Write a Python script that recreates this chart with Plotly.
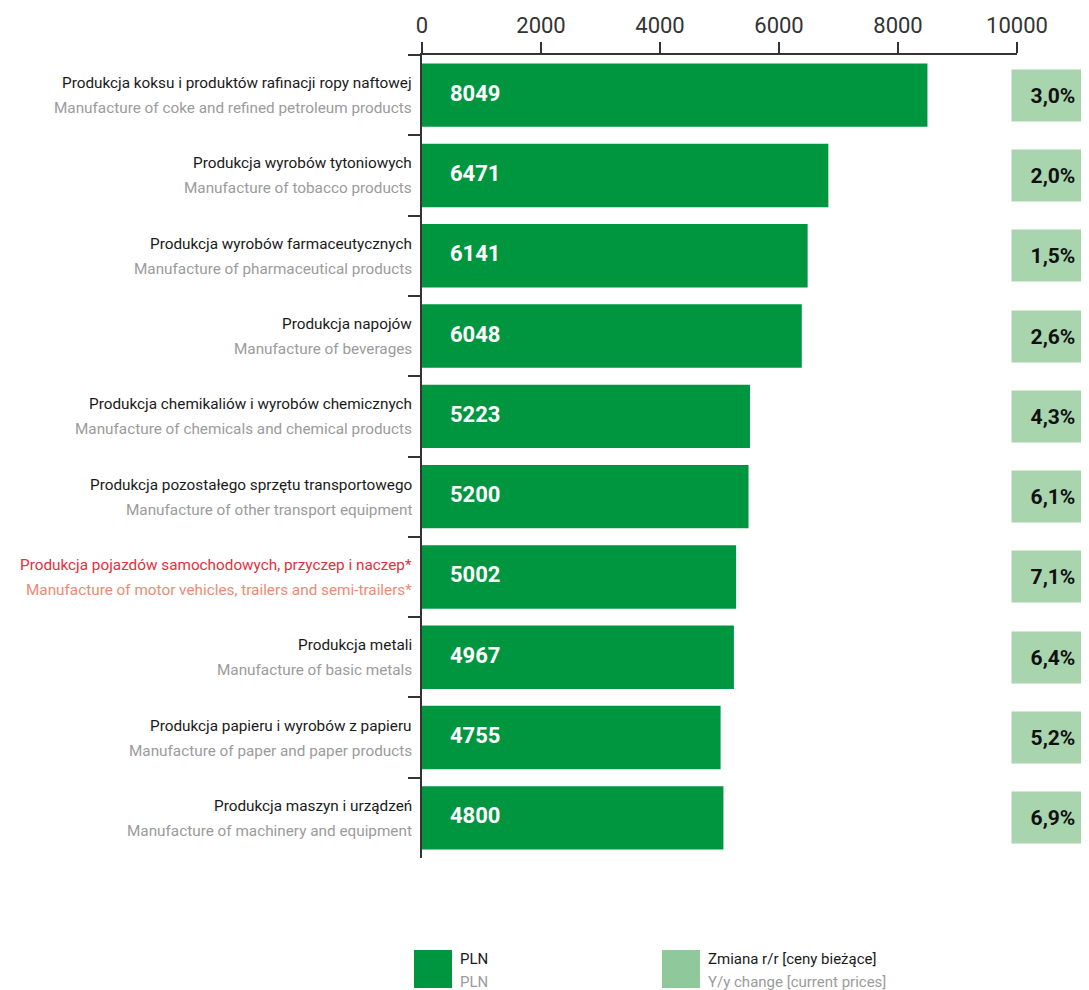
import plotly.graph_objects as go

# dane
kategorie_pl = [
    "Produkcja koksu i produktów rafinacji ropy naftowej",
    "Produkcja wyrobów tytoniowych",
    "Produkcja wyrobów farmaceutycznych",
    "Produkcja napojów",
    "Produkcja chemikaliów i wyrobów chemicznych",
    "Produkcja pozostałego sprzętu transportowego",
    "Produkcja pojazdów samochodowych, przyczep i naczep*",
    "Produkcja metali",
    "Produkcja papieru i wyrobów z papieru",
    "Produkcja maszyn i urządzeń",
]
kategorie_en = [
    "Manufacture of coke and refined petroleum products",
    "Manufacture of tobacco products",
    "Manufacture of pharmaceutical products",
    "Manufacture of beverages",
    "Manufacture of chemicals and chemical products",
    "Manufacture of other transport equipment",
    "Manufacture of motor vehicles, trailers and semi-trailers*",
    "Manufacture of basic metals",
    "Manufacture of paper and paper products",
    "Manufacture of machinery and equipment",
]
pln = [8049, 6471, 6141, 6048, 5223, 5200, 5002, 4967, 4755, 4800]
zmiana = ["3,0%", "2,0%", "1,5%", "2,6%", "4,3%", "6,1%", "7,1%", "6,4%", "5,2%", "6,9%"]
wyrozniona = "Produkcja pojazdów samochodowych, przyczep i naczep*"
ticki_x = [0, 2000, 4000, 6000, 8000, 10000]

# strona ma margines body ~8px, przesuwamy wszystko o tyle
OFF_X, OFF_Y = 7, 8
W, H = 1089, 990
FONT = "Roboto"
ZIELONY = "#009640"
JASNY = "#a8d4ae"
LEGENDA_JASNY = "#8fc89a"
CZARNY = "#1a1a1a"
SZARY = "#9b9b9b"


def px_x(p):
    return (p - OFF_X) / W


def px_y(p):
    return 1 - (p - OFF_Y) / H


fig = go.Figure()
fig.add_trace(go.Bar(
    x=pln, y=kategorie_pl, orientation="h",
    marker=dict(color=ZIELONY, line=dict(width=0)),
    width=0.79, hoverinfo="x+y", showlegend=False,
))
# niewidoczny ślad, żeby oś górna się narysowała
fig.add_trace(go.Scatter(
    x=ticki_x, y=[kategorie_pl[0]] * len(ticki_x), xaxis="x2", yaxis="y",
    mode="markers", marker=dict(opacity=0), hoverinfo="skip", showlegend=False,
))

annotations = []
for pl, en, v, z in zip(kategorie_pl, kategorie_en, pln, zmiana):
    c1, c2 = (CZARNY, SZARY) if pl != wyrozniona else ("#e3303c", "#ee8a73")
    annotations.append(dict(xref="paper", yref="y", x=px_x(413), y=pl, xanchor="right",
                            text=pl, showarrow=False, yshift=12,
                            font=dict(family=FONT, size=15.3, color=c1)))
    annotations.append(dict(xref="paper", yref="y", x=px_x(413), y=pl, xanchor="right",
                            text=en, showarrow=False, yshift=-13,
                            font=dict(family=FONT, size=15.3, color=c2)))
    annotations.append(dict(xref="x", yref="y", x=0, y=pl, xanchor="left", xshift=26, yshift=2,
                            text=f"<b>{v}</b>", showarrow=False,
                            font=dict(family=FONT, size=22, color="white")))
    annotations.append(dict(xref="paper", yref="y", x=px_x(1052), y=pl, xanchor="center",
                            text=f"<b>{z}</b>", showarrow=False, width=80, height=49,
                            bgcolor=JASNY, font=dict(family=FONT, size=21, color="#111")))

# legenda
shapes = []
for x0, kol, t1, t2 in [(413, ZIELONY, "PLN", "PLN"),
                         (661, LEGENDA_JASNY, "Zmiana r/r [ceny bieżące]", "Y/y change [current prices]")]:
    shapes.append(dict(type="rect", xref="paper", yref="paper", x0=px_x(x0), x1=px_x(x0 + 38),
                       y0=px_y(988), y1=px_y(950), fillcolor=kol, line=dict(width=0)))
    annotations.append(dict(xref="paper", yref="paper", x=px_x(x0 + 44), y=px_y(959), xanchor="left",
                            yanchor="middle", text=t1, showarrow=False,
                            font=dict(family=FONT, size=15, color=CZARNY)))
    annotations.append(dict(xref="paper", yref="paper", x=px_x(x0 + 44), y=px_y(982), xanchor="left",
                            yanchor="middle", text=t2, showarrow=False,
                            font=dict(family=FONT, size=15, color=SZARY)))

fig.update_layout(
    width=W, height=H,
    margin=dict(l=0, r=0, t=0, b=0, autoexpand=False),
    paper_bgcolor="white", plot_bgcolor="white",
    font=dict(family=FONT, color="#333"),
    xaxis=dict(domain=[px_x(421), px_x(1016)], range=[0, 9475], visible=False,
               fixedrange=True, automargin=False),
    xaxis2=dict(domain=[px_x(421), px_x(1016)], range=[0, 10000], overlaying="x", side="top",
                anchor="y", tickvals=ticki_x, tickformat="d", ticks="outside", ticklen=11,
                tickwidth=1.5, tickcolor="#333", showline=True, linecolor="#333", linewidth=2,
                showgrid=False, zeroline=False, automargin=False,
                tickfont=dict(family=FONT, size=22, color="#333")),
    yaxis=dict(domain=[px_y(858), px_y(55)], type="category", range=[9.5, -0.5],
               tickson="boundaries", ticks="outside", ticklen=12, tickwidth=1.5, tickcolor="#333",
               showticklabels=False, showline=True, linecolor="#333", linewidth=2, showgrid=False,
               automargin=False),
    annotations=annotations,
    shapes=shapes,
    bargap=0.2,
)

fig.write_html("out.html")
